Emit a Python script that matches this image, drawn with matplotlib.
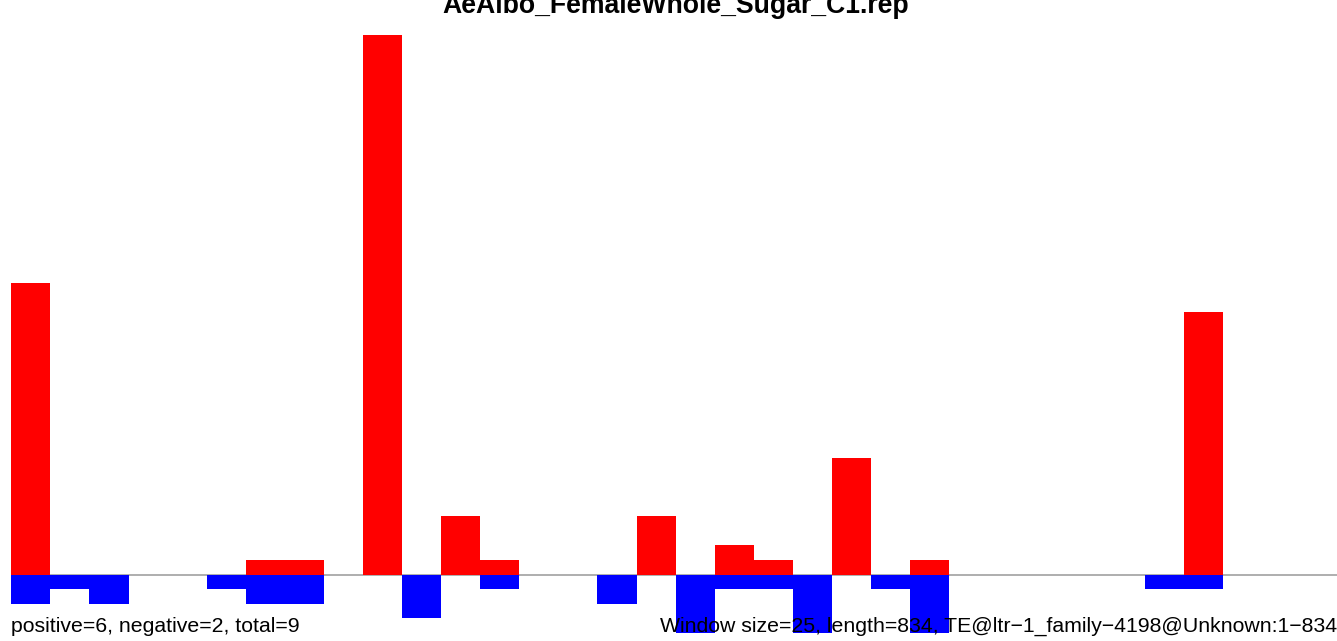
import matplotlib
matplotlib.use("Agg")
import matplotlib.pyplot as plt
import numpy as np

plt.rcParams['font.family'] = ['Liberation Sans', 'DejaVu Sans']

title = "AeAlbo_FemaleWhole_Sugar_C1.rep"
left_note = "positive=6, negative=2, total=9"
right_note = "Window size=25, length=834, TE@ltr\u22121_family\u22124198@Unknown:1\u2212834"

# per-window counts (34 windows of size 25 over length 834)
positive = [20, 0, 0, 0, 0, 0, 1, 1, 0, 37, 0, 4, 1, 0, 0, 0, 4, 0, 2, 1,
            0, 8, 0, 1, 0, 0, 0, 0, 0, 0, 18, 0, 0, 0]
negative = [-2, -1, -2, 0, 0, -1, -2, -2, 0, 0, -3, 0, -1, 0, 0, -2, 0, -4, -1, -1,
            -4, 0, -1, -4, 0, 0, 0, 0, 0, -1, -1, 0, 0, 0]

W, H = 1337, 641
fig = plt.figure(figsize=(W / 100, H / 100), dpi=100)
x_left, x_right = 11.3, 11.3 + 34 * 39.08
ax = fig.add_axes([x_left / W, 1 - 633 / H, (x_right - x_left) / W, (633 - 35) / H])
ax.set_xlim(0, len(positive))
ax.set_ylim(-4, 37)
ax.axis('off')

x = np.arange(len(positive))
ax.bar(x, positive, width=1.0, align='edge', color='#FF0000', linewidth=0)
ax.bar(x, negative, width=1.0, align='edge', color='#0000FF', linewidth=0)
ax.axhline(0, color='#999999', linewidth=1.1, zorder=0.5)

fig.text(676 / W, 1 - 13 / H, title, ha='center', va='baseline',
         fontsize=19.2, fontweight='bold')
fig.text(11 / W, 1 - 632 / H, left_note, ha='left', va='baseline', fontsize=15.3)
fig.text(1337 / W, 1 - 632 / H, right_note, ha='right', va='baseline', fontsize=15.3)

fig.savefig("out.png", dpi=100)
